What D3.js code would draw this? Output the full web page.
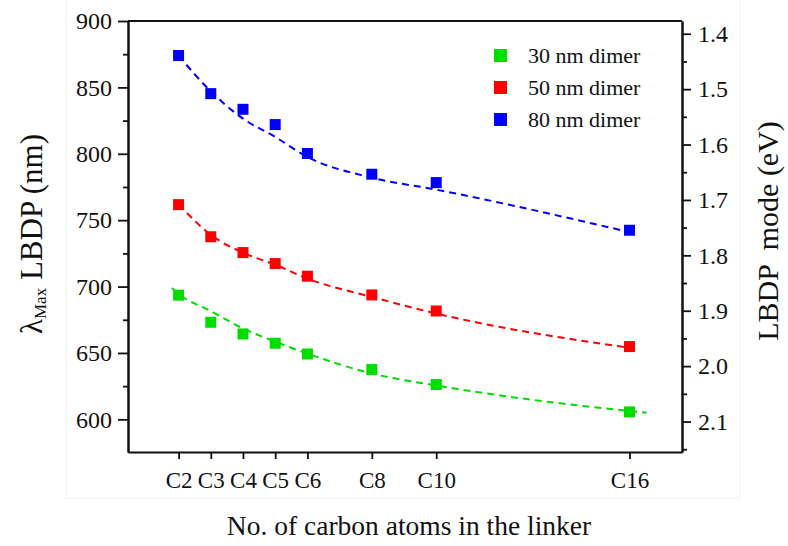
<!DOCTYPE html>
<html>
<head>
<meta charset="utf-8">
<script src="https://cdn.jsdelivr.net/npm/d3@7"></script>
<style>
body{margin:0;background:#fff;}
</style>
</head>
<body>
<svg id="svg" width="788" height="546" font-family="'Liberation Serif', 'Times New Roman', serif"></svg>
<script>
// carbon number of the linker
var carbons=[2,3,4,5,6,8,10,16];
var tickLabels=["C2","C3","C4","C5","C6","C8","C10","C16"];
var seriesNames=["30 nm dimer","50 nm dimer","80 nm dimer"];
var seriesColors=["#00dd00","#ff0000","#0000ff"];
// measured LBDP maxima (nm)
var dimer30=[693.5,673.1,664.3,657.3,649.2,637.5,626.2,605.6];
var dimer50=[761.7,737.5,725.6,717.3,707.8,693.7,681.6,654.8];
var dimer80=[874,845.3,833.5,822,800.2,784.6,778.3,742.4];
// dashed fit curves
var fit30x=[1.79,2,3,4,5,6,8,10,16,16.53];
var fit30y=[699,694.5,681.5,668.5,658.5,649.5,634.5,625.5,606.3,605];
var fit50x=[2,3,4,5,6,8,10,16];
var fit50y=[762,739,725.5,716.5,706,692.2,679.7,653.8];
var fit80x=[2,3,4,5,6,8,10,16];
var fit80y=[874,847,826.5,812.7,797.6,782,773,741];
var leftTicks=[600,650,700,750,800,850,900];
var leftMinor=[625,675,725,775,825,875];
var rightTicks=[1.4,1.5,1.6,1.7,1.8,1.9,2.0,2.1];
var rightMinor=[1.45,1.55,1.65,1.75,1.85,1.95,2.05,2.15];

var L=128,R=682,T=21,B=452;
var serif="'Liberation Serif', 'Times New Roman', serif";
var svg=d3.select("#svg");

svg.append("rect")
   .attr("x",66).attr("y",-1)
   .attr("width",674).attr("height",499)
   .style("fill","#fff")
   .style("stroke","#f2f2f2");

var x=d3.scaleLinear().domain([0.43,17.63]).range([L,R]);
var y=d3.scaleLinear().domain([575.4,900]).range([B,T]);
var yR=d3.scaleLinear().domain([1.377,2.155]).range([T,B]);

// axes
var gl=svg.append("g").attr("transform","translate("+L+",0)");
gl.call(d3.axisLeft(y).tickValues(leftTicks).tickSize(10).tickSizeOuter(0).tickPadding(6));
gl.append("g").call(d3.axisLeft(y).tickValues(leftMinor).tickSize(5).tickSizeOuter(0).tickFormat(""));
var gr=svg.append("g").attr("transform","translate("+R+",0)");
gr.call(d3.axisRight(yR).tickValues(rightTicks).tickSize(9).tickSizeOuter(0).tickPadding(7).tickFormat(d3.format(".1f")));
gr.append("g").call(d3.axisRight(yR).tickValues(rightMinor).tickSize(5).tickSizeOuter(0).tickFormat(""));
var gb=svg.append("g").attr("transform","translate(0,"+B+")");
gb.call(d3.axisBottom(x).tickValues(carbons).tickSize(7).tickSizeOuter(0).tickFormat(function(d,i){return tickLabels[i];}));
gb.selectAll("text").attr("y",36).attr("dy",0).style("font-size","23px");
svg.append("line")
   .attr("x1",L).attr("x2",R).attr("y1",T).attr("y2",T)
   .style("stroke","#111").style("stroke-width",2);

svg.selectAll("g").attr("font-family",null).attr("font-size",null);
svg.selectAll(".domain").style("stroke","#111").style("stroke-width",2);
svg.selectAll(".tick line").style("stroke","#111").style("stroke-width",1.8);
gl.selectAll("text").style("font-size","24px");
gr.selectAll("text").style("font-size","24px");
svg.selectAll(".tick text").style("fill","#111").style("font-family",serif);

// fit curves
var fits=[[fit30x,fit30y],[fit50x,fit50y],[fit80x,fit80y]];
var line=d3.line().x(function(d){return x(d[0]);}).y(function(d){return y(d[1]);}).curve(d3.curveMonotoneX);
fits.forEach(function(f,k){
  svg.append("path")
     .datum(d3.zip(f[0],f[1]))
     .attr("d",line)
     .style("fill","none")
     .style("stroke",seriesColors[k])
     .style("stroke-width",2)
     .style("stroke-dasharray","7,5");
});

// markers
var sz=11;
[dimer30,dimer50,dimer80].forEach(function(s,k){
  svg.append("g").selectAll("rect")
     .data(d3.zip(carbons,s))
     .enter().append("rect")
     .attr("x",function(d){return x(d[0])-sz/2;})
     .attr("y",function(d){return y(d[1])-sz/2;})
     .attr("width",sz).attr("height",sz)
     .style("fill",seriesColors[k]);
});

// legend
var lg=svg.append("g");
seriesNames.forEach(function(n,i){
  lg.append("rect")
    .attr("x",494).attr("y",49+i*32)
    .attr("width",13).attr("height",13)
    .style("fill",seriesColors[i]);
  lg.append("text")
    .attr("x",528).attr("y",63+i*32)
    .style("font-family",serif)
    .style("font-size","22px")
    .style("fill","#111")
    .text(n);
});

// titles
svg.append("text")
   .attr("x",409).attr("y",535)
   .attr("text-anchor","middle")
   .style("font-family",serif)
   .style("font-size","27.5px")
   .style("fill","#111")
   .text("No. of carbon atoms in the linker");
var lt=svg.append("text")
   .attr("transform","translate(42,234) rotate(-90)")
   .attr("text-anchor","middle")
   .style("font-family",serif)
   .style("font-size","31px")
   .style("fill","#111");
lt.append("tspan").text("\u03bb");
lt.append("tspan").attr("dy",4).style("font-size","17px").text("Max");
lt.append("tspan").attr("dy",-4).text(" LBDP (nm)");
svg.append("text")
   .attr("transform","translate(778,231) rotate(-90)")
   .attr("text-anchor","middle")
   .style("font-family",serif)
   .style("font-size","30px")
   .style("fill","#111")
   .style("white-space","pre")
   .text("LBDP  mode (eV)");
</script>
</body>
</html>
